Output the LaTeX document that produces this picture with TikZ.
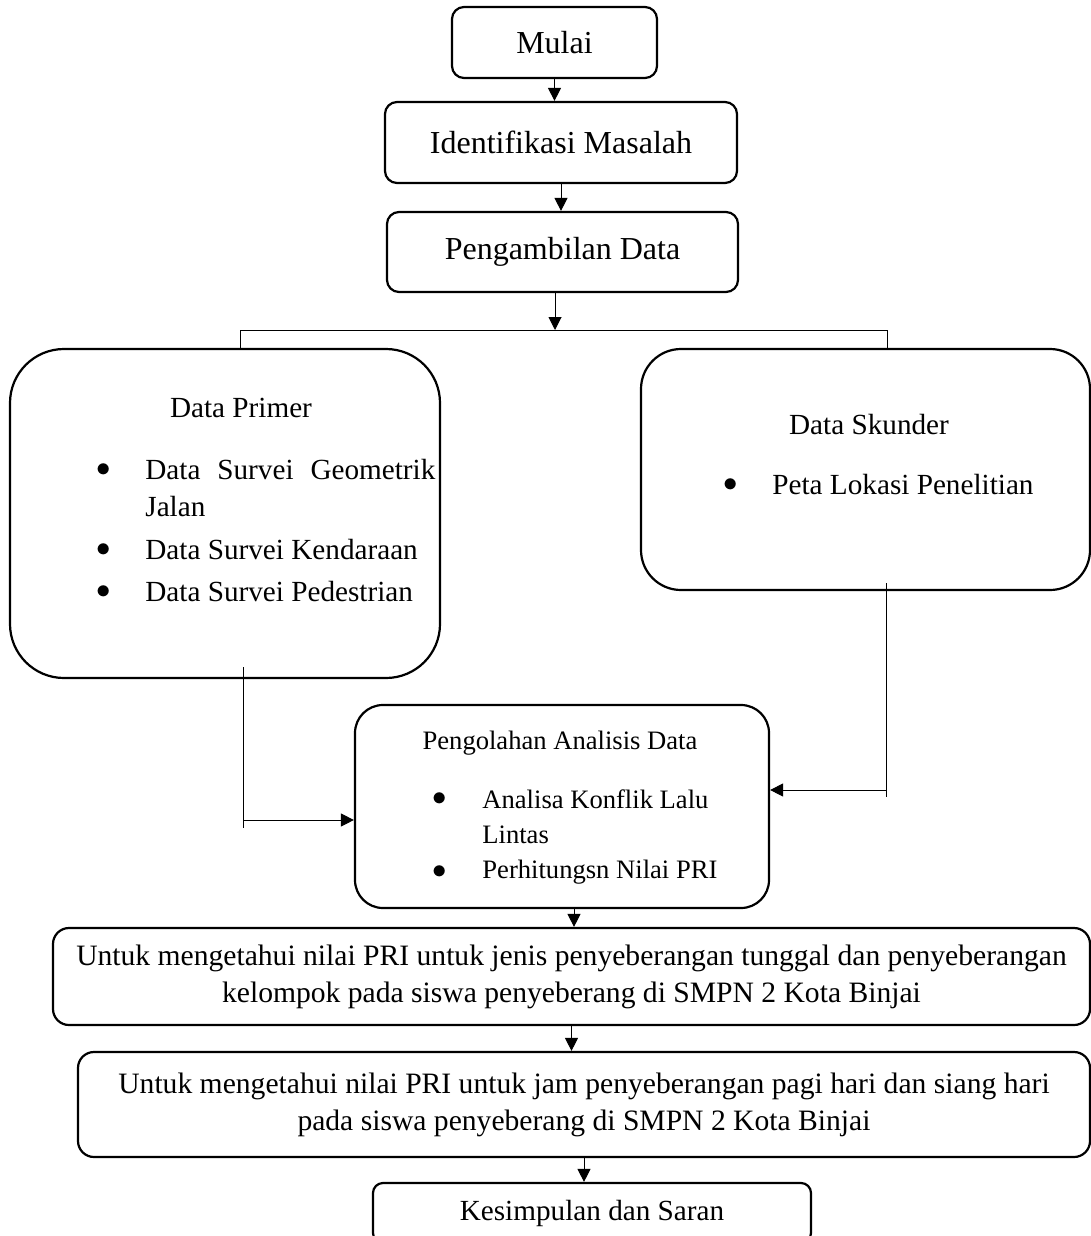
\documentclass[tikz,border=0pt]{standalone}
\usepackage{fontspec}
\setmainfont{Liberation Serif}
\usetikzlibrary{arrows.meta}
\tikzset{
  box/.style={draw, line width=1.1pt, rounded corners=6pt, inner sep=0pt, align=center},
  big/.style={font=\fontsize{16}{19}\selectfont},
  mid/.style={font=\fontsize{14.6}{18}\selectfont},
  small/.style={font=\fontsize{13.3}{16}\selectfont},
  wide/.style={font=\fontsize{14.8}{18.5}\selectfont},
  arr/.style={-{Triangle[width=6.5pt,length=6.5pt]}, line width=0.5pt},
  wire/.style={line width=0.5pt}
}
\begin{document}
\begin{tikzpicture}[x=0.5pt,y=-0.5pt]
\useasboundingbox (0,0) rectangle (1091,1236);
\clip (0,0) rectangle (1091,1236);

\node[box,big,minimum width=102.5pt,minimum height=35.5pt] (mulai) at (554.5,42.5) {Mulai};
\node[box,big,minimum width=176pt,minimum height=40.5pt] (ident) at (561,142.5) {Identifikasi Masalah};
\node[box,big,minimum width=175.5pt,minimum height=40pt] (ambil) at (562.5,252) {Pengambilan Data};

\node[box,rounded corners=27pt,minimum width=215pt,minimum height=164.5pt] (primer) at (225,513.5) {};
\node[mid] (primerT) at (241,408) {Data Primer};
\node[mid] (pb1) at (104,470) {$\bullet$};
\node[mid,anchor=west,inner sep=0pt] (pt1) at (145,470) {\makebox[145pt][s]{Data Survei Geometrik}};
\node[mid,anchor=west,inner sep=0pt] (pt1b) at (145,507) {Jalan};
\node[mid] (pb2) at (104,550) {$\bullet$};
\node[mid,anchor=west,inner sep=0pt] (pt2) at (145,550) {Data Survei Kendaraan};
\node[mid] (pb3) at (104,592) {$\bullet$};
\node[mid,anchor=west,inner sep=0pt] (pt3) at (145,592) {Data Survei Pedestrian};

\node[box,rounded corners=20pt,minimum width=224.5pt,minimum height=120.5pt] (skunder) at (865.5,469.5) {};
\node[mid] (skunderT) at (869,425) {Data Skunder};
\node[mid] (sb1) at (731,485) {$\bullet$};
\node[mid,anchor=west,inner sep=0pt] (st1) at (772,485) {Peta Lokasi Penelitian};

\node[box,rounded corners=14pt,minimum width=207pt,minimum height=101.5pt] (olah) at (562,806.5) {};
\node[small] (olahT) at (560,743) {Pengolahan Analisis Data};
\node[small] (ob1) at (440,799) {$\bullet$};
\node[small,anchor=west,inner sep=0pt] (ot1) at (482,799) {Analisa Konflik Lalu};
\node[small,anchor=west,inner sep=0pt] (ot1b) at (482,835) {Lintas};
\node[small] (ob2) at (440,872) {$\bullet$};
\node[small,anchor=west,inner sep=0pt] (ot2) at (482,872) {Perhitungsn Nilai PRI};

\node[box,wide,rounded corners=8pt,minimum width=518.5pt,minimum height=48.5pt] (untuka) at (571.5,976.5)
  {Untuk mengetahui nilai PRI untuk jenis penyeberangan tunggal dan penyeberangan\\ kelompok pada siswa penyeberang di SMPN 2 Kota Binjai};
\node[box,wide,rounded corners=8pt,minimum width=506pt,minimum height=52.5pt] (untukb) at (584,1104.5)
  {Untuk mengetahui nilai PRI untuk jam penyeberangan pagi hari dan siang hari\\ pada siswa penyeberang di SMPN 2 Kota Binjai};
\node[box,mid,rounded corners=5pt,minimum width=219pt,minimum height=30pt] (simpul) at (592,1213) {Kesimpulan dan Saran};

\coordinate (split) at (555,330);
\coordinate (splitL) at (240,330);
\coordinate (splitR) at (887,330);
\coordinate (primerOut) at (243,667);
\coordinate (elbowL) at (243,820);
\coordinate (skOut) at (886,583);
\coordinate (elbowR) at (886,790);

\draw[arr] (mulai.south) -- (mulai.south |- ident.north);
\draw[arr] (ident.south) -- (ident.south |- ambil.north);
\draw[arr] (ambil.south -| split) -- (split);
\draw[wire] (splitL) -- (splitR);
\draw[wire] (splitL) -- (splitL |- primer.north);
\draw[wire] (splitR) -- (splitR |- skunder.north);
\draw[wire] (primerOut) -- ([yshift=-4pt]elbowL);
\draw[arr] (elbowL) -- (elbowL -| olah.west);
\draw[wire] (skOut) -- ([yshift=-3.5pt]elbowR);
\draw[arr] (elbowR) -- (elbowR -| olah.east);
\draw[arr] ([xshift=6pt]olah.south) -- ([xshift=6pt]olah.south |- untuka.north);
\draw[arr] (untuka.south) -- (untuka.south |- untukb.north);
\draw[arr] (untukb.south) -- (untukb.south |- simpul.north);
\end{tikzpicture}
\end{document}
